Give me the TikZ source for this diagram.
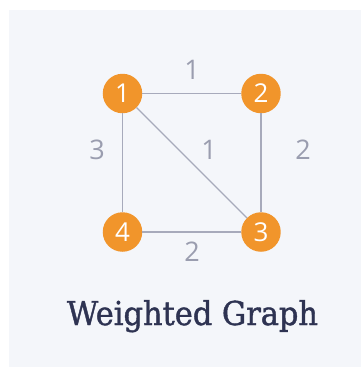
\documentclass[tikz,border=0pt]{standalone}
\usepackage{fontspec}
\setmainfont{Open Sans}
\newfontfamily\titlefont[FakeBold=1.3]{DejaVu Serif}
\definecolor{bgc}{HTML}{F4F6FA}
\definecolor{orng}{HTML}{F1952B}
\definecolor{edgec}{HTML}{A7AABB}
\definecolor{lblc}{HTML}{9A9DAF}
\definecolor{titlec}{HTML}{2E3352}
\tikzset{
  vtx/.style={circle, fill=orng, minimum size=39.5pt, inner sep=0pt, text=white, font=\fontsize{26}{26}\selectfont},
  wlabel/.style={text=lblc, font=\fontsize{27}{27}\selectfont, inner sep=0pt},
  edg/.style={draw=edgec, line width=1.1pt}
}
\begin{document}
\begin{tikzpicture}[x=1pt,y=-1pt]
\useasboundingbox (0,0) rectangle (361,368);
\fill[bgc] (9,10) rectangle (361,367);
\node[vtx] (n1) at (122.5,93.5) {1};
\node[vtx] (n2) at (261,93.5) {2};
\node[vtx] (n3) at (261,232) {3};
\node[vtx] (n4) at (122.5,232) {4};
\path[edg] (n1) -- (n2);
\path[edg] (n2) -- (n3);
\path[edg] (n3) -- (n4);
\path[edg] (n4) -- (n1);
\path[edg] (n1) -- (n3);
\node[wlabel] (w12) at (192,70) {1};
\node[wlabel] (w14) at (97,150) {3};
\node[wlabel] (w13) at (209,150) {1};
\node[wlabel] (w23) at (303,150) {2};
\node[wlabel] (w34) at (192,252) {2};
\node[text=titlec, inner sep=0pt, anchor=base] (title) at (192.5,325) {\resizebox{251pt}{25pt}{\titlefont Weighted Graph}};
\end{tikzpicture}
\end{document}
